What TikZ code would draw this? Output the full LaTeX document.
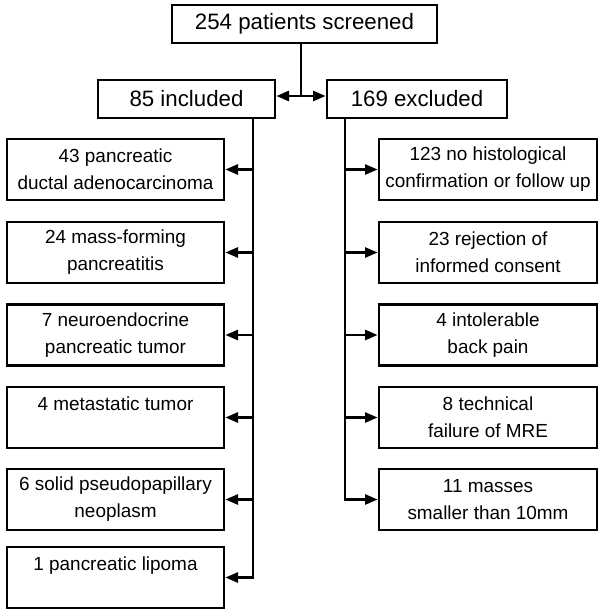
\documentclass[tikz,border=0pt]{standalone}
\usepackage{fontspec}
\setmainfont{Liberation Sans}
\usetikzlibrary{arrows.meta}

\tikzset{every picture/.style={line width=2pt}}
\tikzset{
	bigbox/.style={draw, line width=2pt, fill=white, minimum height=28.5pt, inner sep=0pt, font=\fontsize{16.7}{20}\selectfont},
	smallbox/.style={draw, line width=2pt, fill=white, minimum height=45.75pt, inner sep=0pt, align=center, font=\fontsize{14.2}{20.25}\selectfont},
	leftbox/.style={smallbox, minimum width=162.75pt},
	rightbox/.style={smallbox, minimum width=163.5pt},
	link/.style={line width=2pt, -{Triangle[length=9.5pt,width=7.5pt]}}
}

\begin{document}
\begin{tikzpicture}[x=0.75pt,y=0.75pt,yscale=-1,xscale=1]
	\path (0,0) rectangle (604,614); %page frame

	% Top row
	\node [bigbox, minimum width=198.75pt] (screened) at (304.5,24) {254 patients screened};
	\node [bigbox, minimum width=132.75pt] (incl) at (186.5,99) {85 included};
	\node [bigbox, minimum width=135pt] (excl) at (417,99) {169 excluded};
	\coordinate (split) at (301,96);
	\coordinate (lbus) at (253,0);
	\coordinate (rbus) at (345,0);

	% Included
	\node [leftbox] (pdac) at (115.5,169.5) {43 pancreatic\\ductal adenocarcinoma};
	\node [leftbox] (mfp) at (115.5,252.5) {24 mass-forming\\pancreatitis};
	\node [leftbox] (pnet) at (115.5,335) {7 neuroendocrine\\pancreatic tumor};
	\node [leftbox] (meta) at (115.5,417.5) {4 metastatic tumor\\\mbox{}};
	\node [leftbox] (spn) at (115.5,499.5) {6 solid pseudopapillary\\neoplasm};
	\node [leftbox] (lipoma) at (115.5,577.5) {1 pancreatic lipoma\\\mbox{}};

	% Excluded
	\node [rightbox] (nohist) at (488,169.5) {123 no histological\\confirmation or follow up};
	\node [rightbox] (consent) at (488,252.5) {23 rejection of\\informed consent};
	\node [rightbox] (pain) at (488,335) {4 intolerable\\back pain};
	\node [rightbox] (failure) at (488,417.5) {8 technical\\failure of MRE};
	\node [rightbox] (small) at (488,499.5) {11 masses\\smaller than 10mm};

	% Connectors
	\draw (screened.south -| split) -- (split);
	\draw [link] (split) -- (split -| incl.east);
	\draw [link] (split) -- (split -| excl.west);

	\draw [link] (incl.south -| lbus) |- (lipoma.east);
	\draw [link] (lbus |- pdac.east) -- (pdac.east);
	\draw [link] (lbus |- mfp.east) -- (mfp.east);
	\draw [link] (lbus |- pnet.east) -- (pnet.east);
	\draw [link] (lbus |- meta.east) -- (meta.east);
	\draw [link] (lbus |- spn.east) -- (spn.east);

	\draw [link] (excl.south -| rbus) |- (small.west);
	\draw [link] (rbus |- nohist.west) -- (nohist.west);
	\draw [link] (rbus |- consent.west) -- (consent.west);
	\draw [link] (rbus |- pain.west) -- (pain.west);
	\draw [link] (rbus |- failure.west) -- (failure.west);

\end{tikzpicture}
\end{document}
